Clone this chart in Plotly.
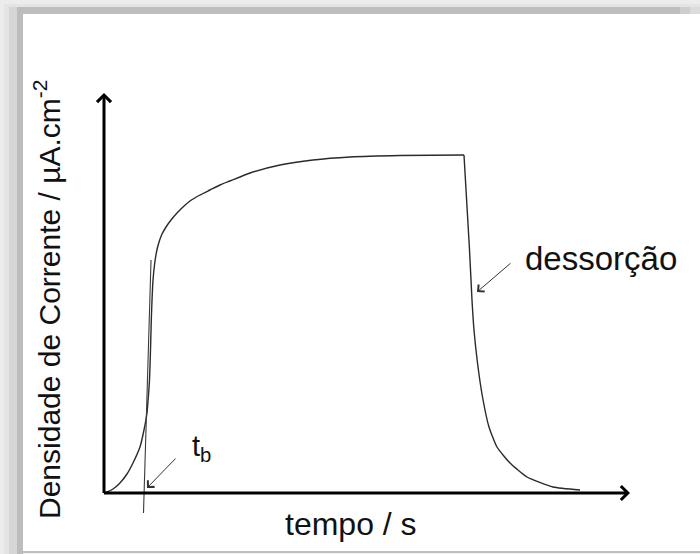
import plotly.graph_objects as go

# Chronoamperometric transient (arbitrary units)
# adsorption: rise to the plateau
t_ads = [0, 0.57, 1.71, 3.04, 4.37, 5.51, 6.84, 7.60, 8.17, 8.46, 8.65, 8.84, 8.99,
         9.13, 9.32, 9.60, 9.98, 10.46, 11.03, 11.79, 12.74, 13.88, 15.02, 16.35,
         18.25, 20.15, 22.05, 23.95, 27.76, 33.46, 39.73, 46.77, 56.27, 68.44]
j_ads = [0, 0.25, 1.0, 2.5, 4.75, 7.5, 11.5, 15.75, 20.0, 24.5, 28.25, 35.75, 43.25,
         48.25, 53.25, 57.0, 60.25, 62.75, 64.75, 66.5, 68.25, 70.0, 71.5, 73.0,
         74.5, 75.75, 77.0, 78.0, 80.0, 82.0, 83.25, 84.0, 84.375, 84.5]

# desorption: decay after the potential step
t_des = [68.44, 69.49, 69.96, 70.34, 71.01, 71.96, 73.19, 74.71, 77.19, 80.42, 85.36, 90.49]
j_des = [84.5, 60.75, 48.25, 40.75, 32.5, 24.0, 16.5, 11.5, 7.5, 4.0, 1.5, 0.75]

# tangent at the inflection of the rise, used to define t_b
tangente_t = [7.51, 8.94]
tangente_j = [-5.0, 58.25]

# axis extents (arrows)
T_MAX = 100
J_MAX = 100

# label anchor points (data units)
tb_pos = (18.6, 11.25)
tb_arrow = ((13.88, 9.0), (8.17, 1.25))
des_pos = (79.7, 58.75)
des_arrow = ((77.57, 57.75), (70.91, 50.25))

W, H = 700, 554
FONT = "Liberation Sans, Arial, sans-serif"


def px(x0, y0, x1, y1):
    """pixel box -> paper coords (paper spans the whole figure)"""
    return dict(x0=x0 / W, x1=x1 / W, y0=1 - y1 / H, y1=1 - y0 / H)


fig = go.Figure()

curve = dict(color="#2a2a2a", width=1.4, shape="spline", smoothing=0.5)
fig.add_trace(go.Scatter(x=t_ads, y=j_ads, mode="lines", line=curve,
                         hoverinfo="skip", showlegend=False))
fig.add_trace(go.Scatter(x=t_des, y=j_des, mode="lines", line=curve,
                         hoverinfo="skip", showlegend=False))
fig.add_trace(go.Scatter(x=tangente_t, y=tangente_j, mode="lines",
                         line=dict(color="#3a3a3a", width=1.1),
                         hoverinfo="skip", showlegend=False))

# framed background
shapes = []
bands = [
    ((0, 0, 700, 554), "#ececec"),
    ((4, 4, 700, 554), "#e4e4e4"),
    ((9, 7, 700, 554), "#d6d6d6"),
    ((17, 7, 700, 554), "#bdbdbd"),
    ((680, 7, 690, 14), "#cdcdcd"),
    ((690, 7, 700, 14), "#dcdcdc"),
    ((23, 14, 700, 551), "#ffffff"),
    ((23, 553, 700, 554), "#f4f4f4"),
]
for (x0, y0, x1, y1), col in bands:
    shapes.append(dict(type="rect", xref="paper", yref="paper", line=dict(width=0),
                       fillcolor=col, layer="below", **px(x0, y0, x1, y1)))

annotations = [
    # axes with arrowheads
    dict(x=0, y=J_MAX, ax=0, ay=-0.4, xref="x", yref="y", axref="x", ayref="y",
         text="", showarrow=True, arrowhead=4, arrowsize=0.9, arrowwidth=3, arrowcolor="#000"),
    dict(x=T_MAX, y=0, ax=-0.3, ay=0, xref="x", yref="y", axref="x", ayref="y",
         text="", showarrow=True, arrowhead=4, arrowsize=0.9, arrowwidth=3, arrowcolor="#000"),
    # pointers
    dict(x=tb_arrow[1][0], y=tb_arrow[1][1], ax=tb_arrow[0][0], ay=tb_arrow[0][1],
         xref="x", yref="y", axref="x", ayref="y", text="", showarrow=True,
         arrowhead=4, arrowsize=1.8, arrowwidth=1, arrowcolor="#333"),
    dict(x=des_arrow[1][0], y=des_arrow[1][1], ax=des_arrow[0][0], ay=des_arrow[0][1],
         xref="x", yref="y", axref="x", ayref="y", text="", showarrow=True,
         arrowhead=4, arrowsize=1.8, arrowwidth=1, arrowcolor="#333"),
    # labels
    dict(x=tb_pos[0], y=tb_pos[1], xref="x", yref="y", text="t<sub>b</sub>", showarrow=False,
         font=dict(family=FONT, size=29, color="#111")),
    dict(x=des_pos[0], y=des_pos[1], xref="x", yref="y", text="dessorção", showarrow=False,
         xanchor="left", font=dict(family=FONT, size=33, color="#111")),
    dict(x=46.96, y=-7.75, xref="x", yref="y", text="tempo / s", showarrow=False,
         font=dict(family=FONT, size=32, color="#111")),
    dict(x=-10.84, y=48.5, xref="x", yref="y", text="Densidade de Corrente / µA.cm<sup>-2</sup>",
         showarrow=False, textangle=-90, font=dict(family=FONT, size=30, color="#111")),
]

fig.update_layout(
    width=W, height=H, autosize=False,
    margin=dict(l=0, r=0, t=0, b=0, pad=0),
    paper_bgcolor="#ececec", plot_bgcolor="rgba(0,0,0,0)",
    xaxis=dict(visible=False, range=[-19.772, 113.308], fixedrange=True),
    yaxis=dict(visible=False, range=[-15.25, 123.25], fixedrange=True),
    shapes=shapes, annotations=annotations, showlegend=False,
)

fig.write_html("out.html")
